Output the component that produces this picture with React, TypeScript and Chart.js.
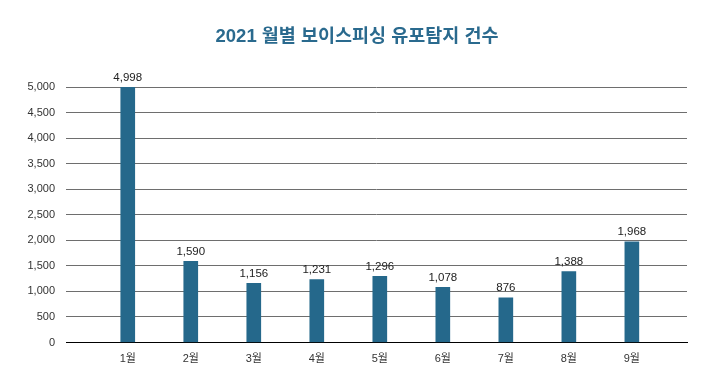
import React, { useEffect, useRef } from "react";
import { Chart, registerables } from "chart.js";

Chart.register(...registerables);

const TITLE = "2021 월별 보이스피싱 유포탐지 건수";
const MONTHS = ["1월", "2월", "3월", "4월", "5월", "6월", "7월", "8월", "9월"];
const COUNTS = [4998, 1590, 1156, 1231, 1296, 1078, 876, 1388, 1968];
const Y_MAX = 5000;
const Y_STEP = 500;

const FONT = "'Liberation Sans', Arial, 'Noto Sans CJK KR', sans-serif";
const BAR_COLOR = "#25688b";

const valueLabels = {
  id: "valueLabels",
  afterDatasetsDraw(chart: any) {
    const { ctx } = chart;
    const meta = chart.getDatasetMeta(0);
    ctx.save();
    ctx.font = `11.5px ${FONT}`;
    ctx.fillStyle = "#222";
    ctx.textAlign = "center";
    ctx.textBaseline = "bottom";
    meta.data.forEach((bar: any, i: number) => {
      ctx.fillText(COUNTS[i].toLocaleString("en-US"), bar.x, bar.y - 4);
    });
    ctx.restore();
  },
};

const titlePlugin = {
  id: "customTitle",
  afterDraw(chart: any) {
    const { ctx } = chart;
    ctx.save();
    ctx.font = `bold 18.5px ${FONT}`;
    ctx.fillStyle = "#2a6a8e";
    ctx.textAlign = "center";
    ctx.textBaseline = "middle";
    ctx.fillText(TITLE, 357, 37);
    ctx.restore();
  },
};

export default function App() {
  const ref = useRef<HTMLCanvasElement>(null);
  useEffect(() => {
    document.body.style.margin = "0";
    const chart = new Chart(ref.current!, {
      type: "bar",
      data: {
        datasets: [
          {
            data: COUNTS.map((v, i) => ({ x: i + 1, y: v })),
            backgroundColor: BAR_COLOR,
            barThickness: 14,
          },
        ],
      },
      options: {
        animation: false,
        responsive: false,
        maintainAspectRatio: false,
        layout: { padding: { left: 0, right: 37, top: 87, bottom: 0 } },
        plugins: {
          legend: { display: false },
          tooltip: { enabled: false },
          title: { display: false },
        },
        scales: {
          x: {
            type: "linear",
            offset: false,
            min: 0.02,
            max: 9.875,
            grid: { display: false, drawTicks: false, offset: false },
            border: { display: true, color: "#000", width: 1 },
            afterBuildTicks: (scale: any) => {
              scale.ticks = MONTHS.map((_, i) => ({ value: i + 1 }));
            },
            afterFit: (scale: any) => {
              scale.height = 42.5;
            },
            ticks: {
              padding: 10,
              color: "#333",
              font: { family: FONT, size: 11 },
              callback: (v: any) => MONTHS[Math.round(v) - 1] ?? "",
              maxRotation: 0,
              autoSkip: false,
            },
          },
          y: {
            min: 0,
            max: Y_MAX,
            grid: {
              drawTicks: false,
              color: (c: any) => (c.tick && c.tick.value === 0 ? "#000" : "#6e6e6e"),
              lineWidth: 1,
            },
            border: { display: false },
            afterFit: (scale: any) => {
              scale.width = 66;
            },
            ticks: {
              stepSize: Y_STEP,
              padding: 11,
              color: "#333",
              font: { family: FONT, size: 11 },
              callback: (v: any) => Number(v).toLocaleString("en-US"),
            },
          },
        },
      },
      plugins: [valueLabels, titlePlugin],
    } as any);
    return () => chart.destroy();
  }, []);
  return <canvas ref={ref} width={724} height={385} style={{ display: "block" }} />;
}
